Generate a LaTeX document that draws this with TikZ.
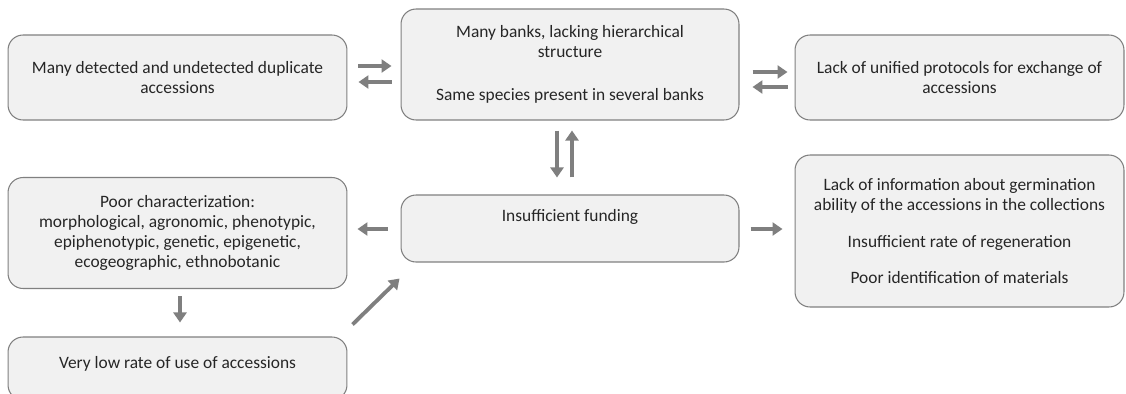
\documentclass[tikz,border=0pt]{standalone}
\usepackage{fontspec}
\setmainfont{Carlito}
\usetikzlibrary{arrows.meta,calc}
\definecolor{boxfill}{HTML}{F1F1F1}
\definecolor{boxline}{HTML}{808080}
\definecolor{arrcol}{HTML}{7F7F7F}
\begin{document}
\begin{tikzpicture}[x=0.02cm,y=-0.02cm,
  box/.style={draw=boxline,line width=0.6pt,fill=boxfill,rounded corners=0.3cm,
    align=center,inner sep=0pt,text=black!85,
    font=\fontsize{9.9pt}{11.4pt}\selectfont},
  arr/.style={draw=arrcol,line width=2.2pt,-{Triangle[length=0.2cm,width=0.26cm]}}]
\useasboundingbox (0,0) rectangle (1126,393);
\node[box,minimum width=6.78cm,minimum height=1.7cm] (A) at (177.5,77.5)
  {Many detected and undetected duplicate\\accessions};
\node[box,minimum width=6.76cm,minimum height=2.22cm] (B) at (570,64.5)
  {Many banks, lacking hierarchical\\structure\\[0.46cm]Same species present in several banks};
\node[box,minimum width=6.58cm,minimum height=1.7cm] (C) at (959.5,77.5)
  {Lack of unified protocols for exchange of\\accessions};
\node[box,minimum width=6.78cm,minimum height=2.22cm] (D) at (177.5,233)
  {Poor characterization:\\morphological, agronomic, phenotypic,\\epiphenotypic, genetic, epigenetic,\\ecogeographic, ethnobotanic};
\node[box,minimum width=6.76cm,minimum height=1.34cm,text depth=0.54cm] (E) at (570,228.5)
  {Insufficient funding};
\node[box,minimum width=6.58cm,minimum height=3.04cm] (F) at (959.5,231)
  {Lack of information about germination\\ability of the accessions in the collections\\[0.34cm]Insufficient rate of regeneration\\[0.3cm]Poor identification of materials};
\node[box,minimum width=6.78cm,minimum height=1.26cm,text depth=0.26cm] (G) at (177.5,368.5)
  {Very low rate of use of accessions};
% connectors
\draw[arr,shorten <=11*0.02cm,shorten >=9*0.02cm] (A.east |- 0,66) -- (B.west |- 0,66);
\draw[arr,shorten <=9*0.02cm,shorten >=11*0.02cm] (B.west |- 0,82) -- (A.east |- 0,82);
\draw[arr,shorten <=13*0.02cm,shorten >=7*0.02cm] (B.east |- 0,72) -- (C.west |- 0,72);
\draw[arr,shorten <=7*0.02cm,shorten >=13*0.02cm] (C.west |- 0,87) -- (B.east |- 0,87);
\draw[arr,shorten <=10*0.02cm,shorten >=17*0.02cm] (B.south -| 557,0) -- (E.north -| 557,0);
\draw[arr,shorten <=17*0.02cm,shorten >=10*0.02cm] (E.north -| 572,0) -- (B.south -| 572,0);
\draw[arr,shorten <=13*0.02cm,shorten >=10*0.02cm] (E.west |- 0,229) -- (D.east |- 0,229);
\draw[arr,shorten <=11*0.02cm,shorten >=12*0.02cm] (E.east |- 0,229) -- (F.west |- 0,229);
\draw[arr,shorten <=7*0.02cm,shorten >=14*0.02cm] (D.south -| 180,0) -- (G.north -| 180,0);
\draw[arr] ($(G.north east)+(5,-12)$) -- ($(E.south west)+(-1,16)$);
\end{tikzpicture}
\end{document}
